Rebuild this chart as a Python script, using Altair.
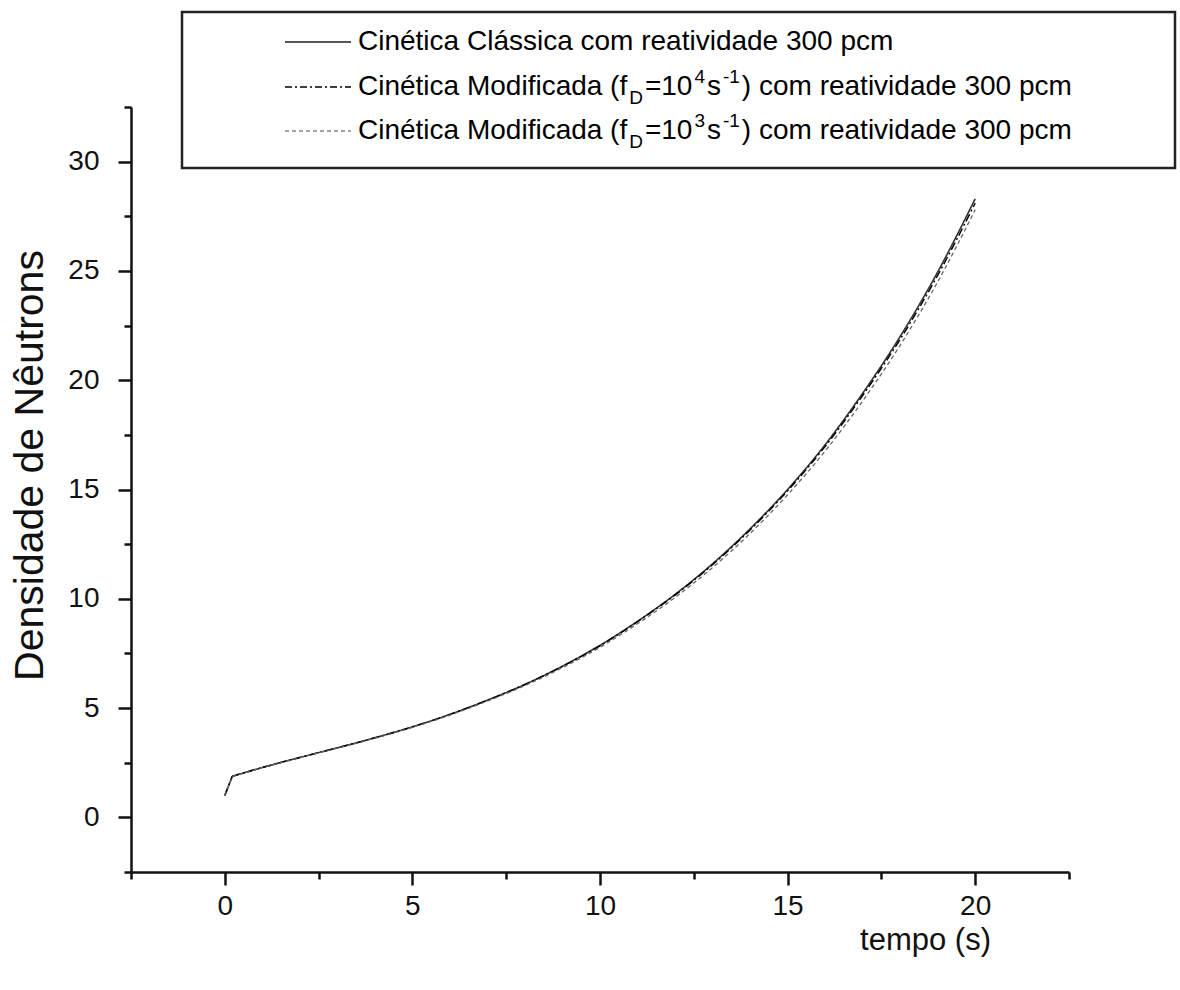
import altair as alt
import pandas as pd

# ---------------- data ----------------
tempo = [0, 0.2, 1, 2, 3, 4, 5, 6, 7, 8, 9, 10, 11, 12, 13, 14, 15, 16, 17, 18, 19, 20]
classica = [1.0, 1.88, 2.28, 2.74, 3.18, 3.64, 4.14, 4.71, 5.36, 6.08, 6.92, 7.87,
            8.97, 10.2, 11.6, 13.2, 15.0, 17.05, 19.4, 22.0, 24.95, 28.3]
modif_1e4 = [1.0, 1.88, 2.28, 2.74, 3.18, 3.64, 4.14, 4.71, 5.36, 6.08, 6.91, 7.85,
             8.95, 10.17, 11.56, 13.15, 14.94, 16.97, 19.3, 21.87, 24.8, 28.1]
modif_1e3 = [1.0, 1.87, 2.27, 2.73, 3.17, 3.62, 4.12, 4.68, 5.32, 6.03, 6.85, 7.78,
             8.86, 10.06, 11.43, 12.99, 14.76, 16.76, 19.05, 21.6, 24.5, 27.8]

series_names = ["classica", "mod4", "mod3"]
x_ticks = [-2.5, 0, 2.5, 5, 7.5, 10, 12.5, 15, 17.5, 20, 22.5]
y_ticks = [-2.5, 0, 2.5, 5, 7.5, 10, 12.5, 15, 17.5, 20, 22.5, 25, 27.5, 30, 32.5]

rows = []
for name, vals in zip(series_names, [classica, modif_1e4, modif_1e3]):
    for i, (t, v) in enumerate(zip(tempo, vals)):
        # the prompt jump (first two samples) is a straight segment,
        # the rest of the curve is smooth
        if i <= 1:
            rows.append({"t": t, "n": v, "s": name, "part": "jump"})
        if i >= 1:
            rows.append({"t": t, "n": v, "s": name, "part": "growth"})
df = pd.DataFrame(rows)

# ---------------- layout constants ----------------
L, T = 131, 107          # plot origin in page pixels
W, H = 938, 765          # plot size
FONT = "Liberation Sans"

major = {"condition": {"test": "datum.value % 5 === 0", "value": 13}, "value": 7}

x_enc = alt.X("t:Q", scale=alt.Scale(domain=[-2.5, 22.5], nice=False, zero=False),
              axis=alt.Axis(values=x_ticks, format="d",
                            labelExpr="datum.value % 5 === 0 ? datum.label : ''",
                            tickSize=major, tickWidth=2.5, tickColor="#111",
                            domainWidth=2.5, domainColor="#111", grid=False,
                            labelFont=FONT, labelFontSize=28, labelColor="#111",
                            labelPadding=7, labelOverlap=False,
                            title="tempo (s)", titleFont=FONT, titleFontSize=31,
                            titleFontWeight="normal", titleColor="#111",
                            titleX=794, titleY=68, titleAlign="center",
                            titleBaseline="middle"))
y_enc = alt.Y("n:Q", scale=alt.Scale(domain=[-2.5, 32.5], nice=False, zero=False),
              axis=alt.Axis(values=y_ticks, format="d",
                            labelExpr="datum.value % 5 === 0 ? datum.label : ''",
                            tickSize=major, tickWidth=2.5, tickColor="#111",
                            domainWidth=2.5, domainColor="#111", grid=False,
                            labelFont=FONT, labelFontSize=28, labelColor="#111",
                            labelPadding=19, labelOverlap=False,
                            title="Densidade de Nêutrons", titleFont=FONT,
                            titleFontSize=41, titleFontWeight="normal",
                            titleColor="#111", titleX=-101, titleY=358,
                            titleAngle=270, titleAlign="center",
                            titleBaseline="middle"))
style = dict(
    color=alt.Color("s:N", scale=alt.Scale(domain=series_names,
                                            range=["#333333", "#000000", "#666666"]),
                    legend=None),
    strokeDash=alt.StrokeDash("s:N", scale=alt.Scale(domain=series_names,
                                                      range=[[1, 0], [8, 3, 2, 3], [4, 3]]),
                              legend=None),
    strokeWidth=alt.StrokeWidth("s:N", scale=alt.Scale(domain=series_names,
                                                        range=[1.6, 1.3, 1.0]),
                                legend=None),
)

base = alt.Chart(df)
jump = base.transform_filter(alt.datum.part == "jump").mark_line(
    interpolate="linear").encode(x=x_enc, y=y_enc, **style)
growth = base.transform_filter(alt.datum.part == "growth").mark_line(
    interpolate="monotone").encode(x=x_enc, y=y_enc, **style)

# ---------------- custom legend ----------------
box = alt.Chart(pd.DataFrame({"a": [0]})).mark_rect(
    fill="white", stroke="#222", strokeWidth=2.5
).encode(x=alt.value(182 - L), x2=alt.value(1175 - L),
         y=alt.value(12 - T), y2=alt.value(168 - T))

AW = {' ': 278, '(': 333, ')': 333, '-': 333, '=': 584, 'C': 722, 'D': 722, 'M': 833,
      'a': 556, 'c': 500, 'd': 556, 'e': 556, 'f': 278, 'i': 222, 'l': 222, 'm': 833,
      'n': 556, 'o': 556, 'p': 556, 'r': 333, 's': 500, 't': 278, 'v': 500,
      'á': 556, 'é': 556}
for ch in "0123456789":
    AW[ch] = 556


def tw(s, size):
    return sum(AW.get(c, 556) for c in s) * size / 1000.0


row_y = [42, 87, 131]
TX = 358
BIG, SMALL = 28, 19
GAP = 2

legend_text = [
    [("Cinética Clássica com reatividade 300 pcm", BIG, 0)],
    [("Cinética Modificada (f", BIG, 0), ("D", SMALL, 11), ("=10", BIG, 0),
     ("4", SMALL, -10), ("s", BIG, 0), ("-1", SMALL, -10),
     (") com reatividade 300 pcm", BIG, 0)],
    [("Cinética Modificada (f", BIG, 0), ("D", SMALL, 11), ("=10", BIG, 0),
     ("3", SMALL, -10), ("s", BIG, 0), ("-1", SMALL, -10),
     (") com reatividade 300 pcm", BIG, 0)],
]
sample_style = [("#555555", [1, 0], 1.8), ("#000000", [7, 3, 2, 3], 1.6),
                ("#888888", [4, 3], 1.3)]

layers = [jump, growth, box]
for i, ry in enumerate(row_y):
    col, dash, sw = sample_style[i]
    layers.append(
        alt.Chart(pd.DataFrame({"a": [0]})).mark_rule(
            color=col, strokeDash=dash, strokeWidth=sw
        ).encode(x=alt.value(285 - L), x2=alt.value(351 - L), y=alt.value(ry - T))
    )
    x = TX
    for seg, size, dy in legend_text[i]:
        if size == SMALL:
            x += GAP
        layers.append(
            alt.Chart(pd.DataFrame({"txt": [seg]})).mark_text(
                align="left", baseline="middle", font=FONT, fontSize=size,
                color="#000", dy=dy
            ).encode(x=alt.value(x - L), y=alt.value(ry - T), text="txt:N")
        )
        x += tw(seg, size) + (GAP if size == SMALL else 0)

chart = alt.layer(*layers).properties(
    width=W, height=H,
    autosize=alt.AutoSizeParams(type="none"),
    padding={"left": L, "top": T, "right": 1180 - L - W, "bottom": 990 - T - H},
    background="white",
).configure_view(stroke=None)

chart.save("out.html", embed_options={"renderer": "svg", "actions": False})
